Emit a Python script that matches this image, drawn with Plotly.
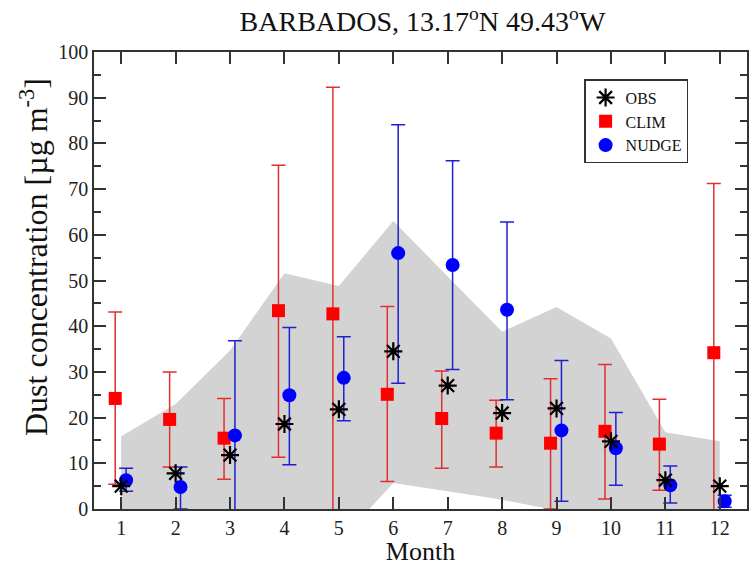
import plotly.graph_objects as go

# Monthly dust concentration at Barbados (µg m-3)
months = list(range(1, 13))

obs = [5.0, 7.8, 11.8, 18.6, 21.8, 34.5, 27.0, 21.0, 22.0, 14.8, 6.3, 5.0]

clim = [24.2, 19.6, 15.5, 43.4, 42.7, 25.1, 19.8, 16.6, 14.4, 17.0, 14.2, 34.2]
clim_hi = [43.1, 30.0, 24.2, 75.2, 92.3, 44.3, 30.2, 23.8, 28.5, 31.6, 24.0, 71.2]
clim_lo = [5.4, 9.2, 6.5, 11.3, -5.0, 6.0, 8.9, 9.2, 0.0, 2.2, 4.1, -5.0]

nudge = [6.3, 4.8, 16.1, 24.9, 28.7, 56.0, 53.4, 43.6, 17.2, 13.3, 5.2, 1.7]
nudge_hi = [8.9, 9.2, 36.8, 39.7, 37.7, 84.1, 76.2, 62.8, 32.5, 21.1, 9.4, 3.0]
nudge_lo = [3.9, 0.0, -5.0, 9.7, 19.3, 27.5, 30.5, 23.9, 1.7, 5.2, 1.3, 0.4]

# observed spread envelope
band_hi = [15.9, 23.0, 34.7, 51.6, 48.8, 63.0, 50.9, 38.8, 44.2, 37.3, 16.8, 14.8]
band_lo = [-5.0, -5.0, -5.0, -5.0, -7.3, 5.7, 3.9, 2.0, -0.3, -5.0, -5.0, -5.0]

clim_dx = -0.11
nudge_dx = 0.09

FONT = "Liberation Serif, Times New Roman, serif"

fig = go.Figure()

fig.add_trace(go.Scatter(
    x=months + months[::-1],
    y=band_hi + band_lo[::-1],
    fill="toself", fillcolor="#d3d3d3",
    line=dict(width=0), mode="lines",
    hoverinfo="skip", showlegend=False,
))

fig.add_trace(go.Scatter(
    x=[m + clim_dx for m in months], y=clim, mode="markers", name="CLIM",
    marker=dict(symbol="square", size=13, color="#ff0000"),
    error_y=dict(type="data", symmetric=False,
                 array=[h - v for h, v in zip(clim_hi, clim)],
                 arrayminus=[v - l for v, l in zip(clim, clim_lo)],
                 color="#e03030", thickness=1.5, width=7),
    legendrank=2,
))

fig.add_trace(go.Scatter(
    x=[m + nudge_dx for m in months], y=nudge, mode="markers", name="NUDGE",
    marker=dict(symbol="circle", size=14, color="#0000ff"),
    error_y=dict(type="data", symmetric=False,
                 array=[h - v for h, v in zip(nudge_hi, nudge)],
                 arrayminus=[v - l for v, l in zip(nudge, nudge_lo)],
                 color="#2020d0", thickness=1.5, width=7),
    legendrank=3,
))

fig.add_trace(go.Scatter(
    x=months, y=obs, mode="markers", name="OBS",
    marker=dict(symbol="asterisk-open", size=15, color="black",
                line=dict(color="black", width=2.2)),
    legendrank=1,
))

axis_common = dict(
    showline=True, linecolor="#333333", linewidth=1.5, mirror="ticks",
    ticks="inside", tickcolor="#333333", tickwidth=1.5,
    showgrid=False, zeroline=False,
    tickfont=dict(family=FONT, size=20, color="#222222"),
)

fig.update_xaxes(
    range=[0.5, 12.5], tickvals=months, ticklen=12,
    title=dict(text="Month", font=dict(family=FONT, size=26, color="#111111"), standoff=7),
    **axis_common,
)
fig.update_yaxes(
    range=[0, 100], tick0=0, dtick=10, ticklen=12,
    minor=dict(dtick=5, ticks="inside", ticklen=7, tickcolor="#333333", tickwidth=1.5),
    **axis_common,
)

# y-axis title placed as a rotated annotation
fig.add_annotation(
    text="Dust concentration [µg m<sup>-3</sup>]",
    xref="paper", yref="paper", x=-0.093, y=0.552,
    xanchor="center", yanchor="middle", textangle=-90, showarrow=False,
    font=dict(family=FONT, size=32, color="#111111"),
)

fig.update_layout(
    width=751, height=566,
    margin=dict(l=94, r=2, t=52, b=56),
    paper_bgcolor="white", plot_bgcolor="white",
    font=dict(family=FONT, color="#111111"),
    title=dict(text="BARBADOS, 13.17<sup>o</sup>N 49.43<sup>o</sup>W",
               x=0.5625, xanchor="center", y=0.962, yanchor="middle",
               font=dict(family=FONT, size=28, color="#111111")),
    legend=dict(x=0.751, y=0.94, xanchor="left", yanchor="top",
                bordercolor="#333333", borderwidth=1.2, bgcolor="white",
                font=dict(family=FONT, size=16, color="#111111"),
                tracegroupgap=0, itemwidth=30),
    showlegend=True,
)

fig.write_html("out.html")
